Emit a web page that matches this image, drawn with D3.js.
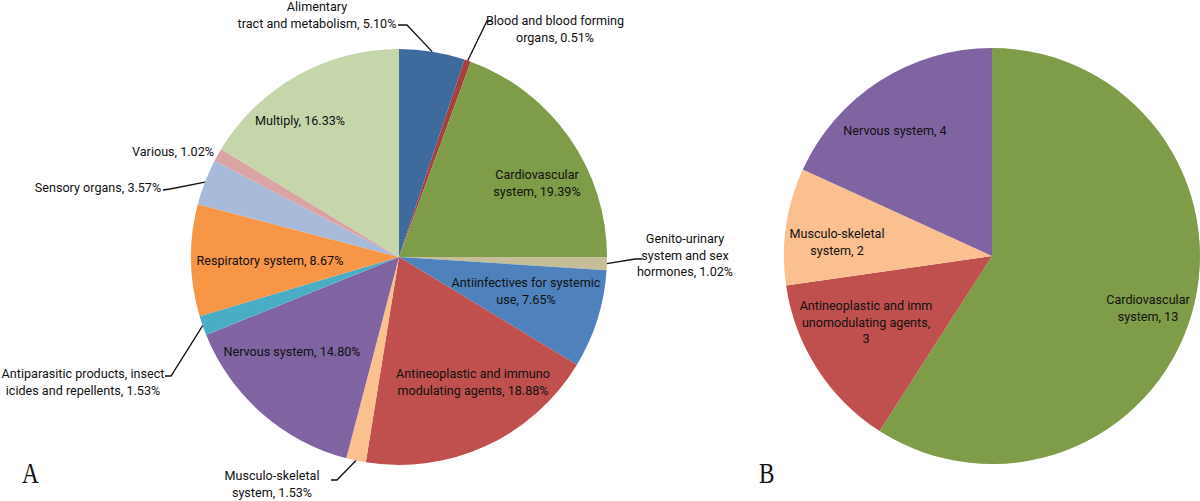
<!DOCTYPE html>
<html lang="en">
<head>
<meta charset="UTF-8">
<title>Drug classes</title>
<script src="https://cdn.jsdelivr.net/npm/d3@7"></script>
<style>
    body{ margin:0; background:#fff; }
    text{ font-family: Roboto, "Noto Sans", sans-serif; font-size:12.6px; fill:#111; }
    .panel{ font-family: "Liberation Serif", serif; font-size:29px; fill:#111; }
</style>
</head>
<body>
<div id='chart'></div>
<script>
    // pie A: share of each class (%)
    const catsA = ['Alimentary tract and metabolism', 'Blood and blood forming organs', 'Cardiovascular system',
        'Genito-urinary system and sex hormones', 'Antiinfectives for systemic use', 'Antineoplastic and immuno modulating agents',
        'Musculo-skeletal system', 'Nervous system', 'Antiparasitic products, insecticides and repellents',
        'Respiratory system', 'Sensory organs', 'Various', 'Multiply']
    const valsA = [5.10, 0.51, 19.39, 1.02, 7.65, 18.88, 1.53, 14.80, 1.53, 8.67, 3.57, 1.02, 16.33]
    const textA = [
        ['Alimentary', 'tract and metabolism, 5.10%'],
        ['Blood and blood forming', 'organs, 0.51%'],
        ['Cardiovascular', 'system, 19.39%'],
        ['Genito-urinary', 'system and sex', 'hormones, 1.02%'],
        ['Antiinfectives for systemic', 'use, 7.65%'],
        ['Antineoplastic and immuno', 'modulating agents, 18.88%'],
        ['Musculo-skeletal', 'system, 1.53%'],
        ['Nervous system, 14.80%'],
        ['Antiparasitic products, insect', 'icides and repellents, 1.53%'],
        ['Respiratory system, 8.67%'],
        ['Sensory organs, 3.57%'],
        ['Various, 1.02%'],
        ['Multiply, 16.33%']
    ]
    const colA = ['#3F6A9E', '#A4413E', '#7F9C48', '#C6BE98', '#4F81BD', '#C0504D', '#FAC090',
        '#8064A2', '#4BACC6', '#F79646', '#A8BAD9', '#D9A4A3', '#C5D6AA']

    // pie B: counts
    const catsB = ['Cardiovascular system', 'Antineoplastic and immunomodulating agents', 'Musculo-skeletal system', 'Nervous system']
    const valsB = [13, 3, 2, 4]
    const textB = [
        ['Cardiovascular', 'system, 13'],
        ['Antineoplastic and imm', 'unomodulating agents,', '3'],
        ['Musculo-skeletal', 'system, 2'],
        ['Nervous system, 4']
    ]
    const colB = ['#7F9C48', '#C0504D', '#FAC090', '#8064A2']

    // label layout: centre of text block (first line) and optional leader elbow/end
    const layA = [
        {x: 317, y: 11, lead: [[407, 25], [398, 25]]},
        {x: 555, y: 25, lead: [[487, 21], [492, 21]]},
        {x: 537, y: 179},
        {x: 685, y: 243, lead: [[635, 259], [642, 259]]},
        {x: 526, y: 287},
        {x: 473, y: 378},
        {x: 272, y: 480, lead: [[337, 480], [331, 480]]},
        {x: 292, y: 356},
        {x: 83, y: 378, lead: [[171, 376], [165, 376]]},
        {x: 270, y: 265},
        {x: 98, y: 192, lead: [[170, 189], [163, 190]]},
        {x: 173, y: 156},
        {x: 300, y: 125}
    ]
    const layB = [
        {x: 1148, y: 304},
        {x: 866, y: 310},
        {x: 837, y: 238},
        {x: 895, y: 135}
    ]

    const R = 208
    const lh = 16.5

    var svg = d3.select('#chart').append('svg')
        .attr('width', 1200)
        .attr('height', 501)

    function drawPie(vals, cols, texts, lay, cx, cy) {
        const pie = d3.pie().sort(null).value(d => d)
        const arcs = pie(vals)
        const arc = d3.arc().innerRadius(0).outerRadius(R)
        const edge = d3.arc().innerRadius(R).outerRadius(R)

        var g = svg.append('g').attr('transform', `translate(${cx}, ${cy})`)

        g.selectAll('path')
            .data(arcs)
            .enter()
            .append('path')
            .attr('d', arc)
            .style('fill', (d, i) => cols[i])

        arcs.forEach((d, i) => {
            const l = lay[i]
            if (l.lead) {
                const p = edge.centroid(d)
                const pts = [[p[0] + cx, p[1] + cy]].concat(l.lead)
                svg.append('path')
                    .attr('d', d3.line()(pts))
                    .attr('fill', 'none')
                    .attr('stroke', '#111')
                    .attr('stroke-width', 1.3)
            }
            const t = svg.append('text')
                .attr('text-anchor', 'middle')
                .attr('x', l.x)
                .attr('y', l.y)
            texts[i].forEach((s, j) => {
                t.append('tspan').attr('x', l.x).attr('dy', j == 0 ? 0 : lh).text(s)
            })
        })
    }

    drawPie(valsA, colA, textA, layA, 399, 257)
    drawPie(valsB, colB, textB, layB, 992, 256)

    // panel letters, a bit condensed like the original serif face
    svg.append('text').attr('class', 'panel').attr('transform', 'translate(22, 483) scale(0.8, 1)').text('A')
    svg.append('text').attr('class', 'panel').attr('transform', 'translate(759, 483) scale(0.8, 1)').text('B')
</script>
</body>
</html>
